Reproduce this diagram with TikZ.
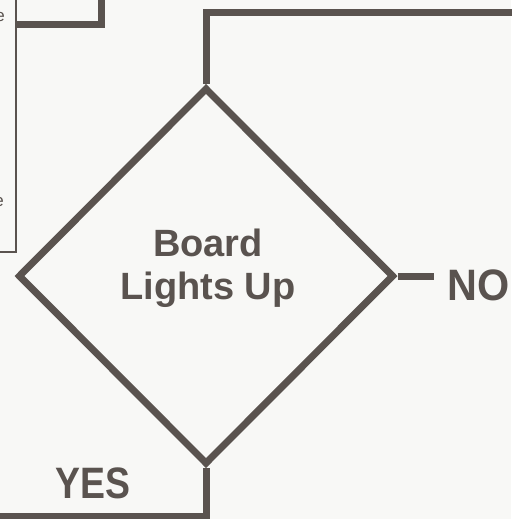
\documentclass[tikz,border=0pt]{standalone}
\usepackage{fontspec}
\setmainfont{Liberation Sans}
\usetikzlibrary{arrows.meta,positioning,shapes.geometric}
\definecolor{ink}{HTML}{5A534F}
\definecolor{paper}{HTML}{F8F8F6}

\begin{document}
\begin{tikzpicture}[x=1pt,y=-1pt,
  flow/.style={draw=ink,line width=7pt,line join=miter},
  frame/.style={draw=ink,line width=2.5pt},
  answer/.style={text=ink,font=\bfseries\fontsize{44}{44}\selectfont,inner sep=0pt,anchor=base west}]
  \useasboundingbox[fill=paper] (0,0) rectangle (511,519);
  % text box on the left, cut by the page edge
  \draw[frame] (-10,252) -| (16,-10);
  \node[text=ink,font=\fontsize{17}{17}\selectfont,anchor=base east,inner sep=0pt] (cutA) at (5,22) {e};
  \node[text=ink,font=\fontsize{17}{17}\selectfont,anchor=base east,inner sep=0pt] (cutB) at (4,206) {e};
  \coordinate (boxedge) at (16,25);
  \coordinate (boxin) at (101,-10);
  \draw[flow] (boxin) |- (boxedge);
  % decision
  \node[diamond,flow,minimum width=376pt,minimum height=377pt,inner sep=0pt] (lights) at (206,276) {};
  \node[text=ink,font=\bfseries\fontsize{38}{43}\selectfont,align=center,inner sep=0pt] (lightstext) at (208,268) {Board\\Lights Up};
  % exits
  \coordinate (topend) at (520,13);
  \draw[flow] (lights.north) |- (topend);
  \coordinate (noend) at ([xshift=36pt]lights.east);
  \draw[flow] (lights.east) -- (noend);
  \node[answer,xscale=0.94] (no) at (447,300) {NO};
  \coordinate (yesend) at (-10,516);
  \draw[flow] (lights.south) |- (yesend);
  \node[answer,xscale=0.85] (yes) at (55,498) {YES};
\end{tikzpicture}
\end{document}
